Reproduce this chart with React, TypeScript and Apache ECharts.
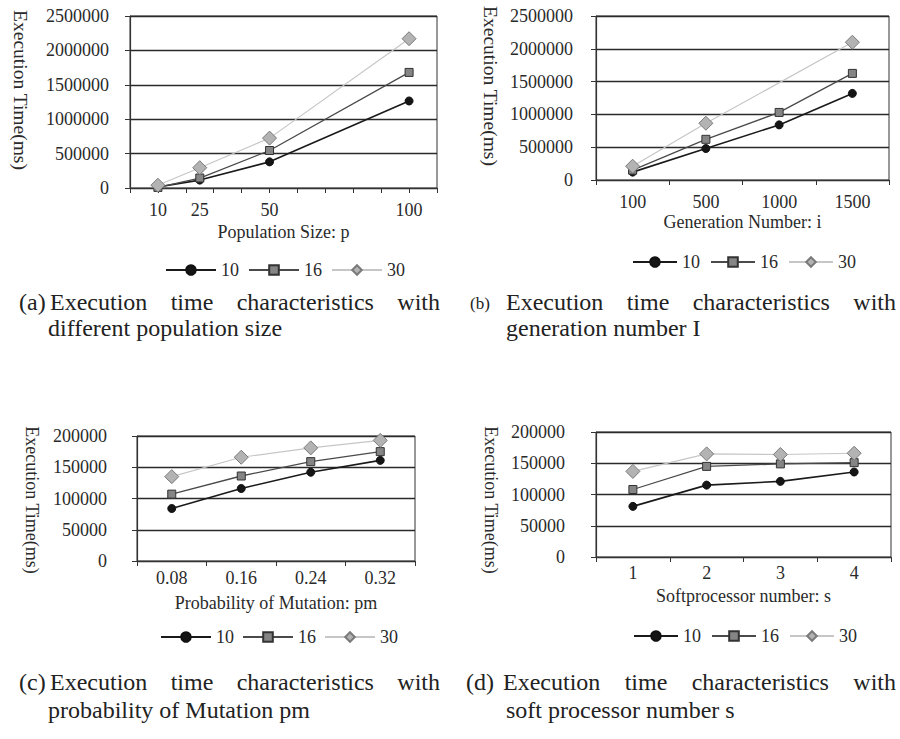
import React, { useEffect, useRef } from "react";
import * as echarts from "echarts";

// ---------- data ----------
const seriesNames = ["10", "16", "30"];

const popSizes = [10, 25, 50, 100];
const pop10 = [15000, 115000, 380000, 1265000];
const pop16 = [8000, 145000, 545000, 1680000];
const pop30 = [40000, 295000, 725000, 2170000];

const genNumbers = ["100", "500", "1000", "1500"];
const gen10 = [120000, 480000, 840000, 1320000];
const gen16 = [150000, 620000, 1030000, 1625000];
const gen30 = [210000, 865000, null, 2100000];

const pmValues = ["0.08", "0.16", "0.24", "0.32"];
const pm10 = [84000, 116000, 142000, 161000];
const pm16 = [107000, 136000, 159000, 175000];
const pm30 = [135000, 166000, 181000, 193000];

const spValues = ["1", "2", "3", "4"];
const sp10 = [81000, 115000, 121000, 136000];
const sp16 = [108000, 145000, 149000, 151000];
const sp30 = [137000, 165000, 164000, 166000];

const yNameText = "Execution Time(ms)";
const xNames = ["Population Size: p", "Generation Number: i", "Probability of Mutation: pm", "Softprocessor number: s"];

const capA = ["(a)", "Execution time characteristics with", "different population size"];
const capB = ["(b)", "Execution time characteristics with", "generation number I"];
const capC = ["(c)", "Execution time characteristics with", "probability of Mutation pm"];
const capD = ["(d)", "Execution time characteristics with", "soft processor number s"];

// ---------- styling ----------
const FONT = "'Liberation Serif', 'Times New Roman', serif";
const TXT = "#2a2a2a";

const styles: Record<string, any> = {
  "10": { fill: "#151515", border: "#111", line: "#1a1a1a", symbol: "circle", size: 8, width: 1.6 },
  "16": { fill: "#858585", border: "#333", line: "#4a4a4a", symbol: "rect", size: 8, width: 1.3 },
  "30": { fill: "#b3b3b3", border: "#7a7a7a", line: "#c6c6c6", symbol: "diamond", size: 14, width: 1.2 },
};

function measureWords(words: string[], size: number) {
  const c = document.createElement("canvas").getContext("2d")!;
  c.font = `${size}px 'Liberation Serif'`;
  return words.map((w) => c.measureText(w).width);
}

function justified(text: string, x0: number, x1: number, y: number, size: number) {
  const words = text.split(" ");
  const ws = measureWords(words, size);
  const total = ws.reduce((a, b) => a + b, 0);
  const gap = words.length > 1 ? (x1 - x0 - total) / (words.length - 1) : 0;
  let x = x0;
  return words.map((w, i) => {
    const el = {
      type: "text",
      x,
      y,
      style: { text: w, fontFamily: FONT, fontSize: size, fill: "#222", align: "left", verticalAlign: "middle" },
    };
    x += ws[i] + gap;
    return el;
  });
}

function plainText(text: string, x: number, y: number, size: number) {
  return {
    type: "text",
    x,
    y,
    style: { text, fontFamily: FONT, fontSize: size, fill: "#222", align: "left", verticalAlign: "middle" },
  };
}

export default function App() {
  const ref = useRef<HTMLDivElement>(null);

  useEffect(() => {
    const chart = echarts.init(ref.current!, null, { renderer: "svg" });

    const grids = [
      { left: 130, top: 16, width: 307, height: 172 },
      { left: 596, top: 16, width: 293, height: 164 },
      { left: 137, top: 436, width: 278, height: 125 },
      { left: 596, top: 432, width: 295, height: 125 },
    ].map((g) => ({ ...g, show: true, borderColor: "#333", borderWidth: 1, backgroundColor: "transparent" }));

    const yMax = [2500000, 2500000, 200000, 200000];
    const yInt = [500000, 500000, 50000, 50000];
    const yMargin = [21, 23, 30, 31];
    const xMargin = [13, 13, 8, 7];
    const xGap = [35, 33, 33, 30];

    const yAxes = yMax.map((m, i) => ({
      type: "value",
      gridIndex: i,
      min: 0,
      max: m,
      interval: yInt[i],
      axisLine: { show: true, lineStyle: { color: "#333", width: 1.2 } },
      axisTick: { show: true, length: 5, lineStyle: { color: "#333" } },
      splitLine: { show: true, lineStyle: { color: "#2a2a2a", width: 1.3 } },
      axisLabel: {
        margin: yMargin[i],
        fontFamily: FONT,
        fontSize: 18,
        color: TXT,
        formatter: (v: number) => String(v),
      },
    }));

    const commonX = (i: number) => ({
      gridIndex: i,
      name: xNames[i],
      nameLocation: "middle",
      nameGap: xGap[i],
      nameTextStyle: { fontFamily: FONT, fontSize: 18, color: TXT },
      axisLine: { show: true, onZero: false, lineStyle: { color: "#333", width: 1.2 } },
      axisTick: { show: true, length: 5, lineStyle: { color: "#333" } },
      splitLine: { show: false },
    });

    const xAxes: any[] = [
      {
        ...commonX(0),
        type: "value",
        min: 0,
        max: 110,
        interval: 10,
        axisLabel: { customValues: popSizes, margin: xMargin[0], fontFamily: FONT, fontSize: 18, color: TXT },
      },
      { ...commonX(1), type: "category", boundaryGap: true, data: genNumbers, axisLabel: { margin: xMargin[1], fontFamily: FONT, fontSize: 18, color: TXT } },
      { ...commonX(2), type: "category", boundaryGap: true, data: pmValues, axisLabel: { margin: xMargin[2], fontFamily: FONT, fontSize: 18, color: TXT } },
      { ...commonX(3), type: "category", boundaryGap: true, data: spValues, axisLabel: { margin: xMargin[3], fontFamily: FONT, fontSize: 18, color: TXT } },
    ];

    const dataSets: any[][] = [
      [pop10.map((v, k) => [popSizes[k], v]), pop16.map((v, k) => [popSizes[k], v]), pop30.map((v, k) => [popSizes[k], v])],
      [gen10, gen16, gen30],
      [pm10, pm16, pm30],
      [sp10, sp16, sp30],
    ];

    const series: any[] = [];
    dataSets.forEach((sets, gi) => {
      sets.forEach((d, si) => {
        const nm = seriesNames[si];
        const s = styles[nm];
        series.push({
          type: "line",
          name: nm,
          xAxisIndex: gi,
          yAxisIndex: gi,
          data: d,
          connectNulls: true,
          symbol: s.symbol,
          symbolSize: s.size,
          itemStyle: { color: s.fill, borderColor: s.border, borderWidth: 1 },
          lineStyle: { color: s.line, width: s.width },
          z: 3 + si,
        });
      });
    });

    const legendPos = [
      { left: 165, top: 261, itemWidth: 50, itemGap: 9 },
      { left: 632, top: 253, itemWidth: 44, itemGap: 10 },
      { left: 160, top: 628, itemWidth: 50, itemGap: 8 },
      { left: 633, top: 627, itemWidth: 44, itemGap: 10 },
    ];
    const legends = legendPos.map((p) => ({
      ...p,
      data: seriesNames,
      orient: "horizontal",
      padding: 0,
      itemHeight: 12,
      selectedMode: false,
      textStyle: { fontFamily: FONT, fontSize: 18, color: TXT },
    }));

    const yNames = [
      { x: 20, y: 90, s: 19.5 },
      { x: 490, y: 86, s: 19.5 },
      { x: 32, y: 500, s: 18 },
      { x: 491, y: 500, s: 18 },
    ].map((p) => ({
      type: "text",
      x: p.x,
      y: p.y,
      rotation: -Math.PI / 2,
      style: { text: yNameText, fontFamily: FONT, fontSize: p.s, fill: TXT, align: "center", verticalAlign: "middle" },
    }));

    const CAP = 24;
    const captions: any[] = [
      plainText(capA[0], 19, 302, CAP),
      ...justified(capA[1], 50, 440, 302, CAP),
      plainText(capA[2], 48, 328, CAP),
      plainText(capB[0], 470, 303, 17),
      ...justified(capB[1], 506, 896, 302, CAP),
      plainText(capB[2], 506, 328, CAP),
      plainText(capC[0], 19, 682, CAP),
      ...justified(capC[1], 50, 440, 682, CAP),
      plainText(capC[2], 48, 710, CAP),
      plainText(capD[0], 466, 682, CAP),
      ...justified(capD[1], 503, 896, 682, CAP),
      plainText(capD[2], 506, 710, CAP),
    ];

    chart.setOption({
      animation: false,
      backgroundColor: "#ffffff",
      grid: grids,
      xAxis: xAxes,
      yAxis: yAxes,
      legend: legends,
      series,
      graphic: { elements: [...yNames, ...captions] },
    });

    return () => chart.dispose();
  }, []);

  return (
    <div
      ref={ref}
      style={{ position: "fixed", left: 0, top: 0, width: 900, height: 739, background: "#fff" }}
    />
  );
}
